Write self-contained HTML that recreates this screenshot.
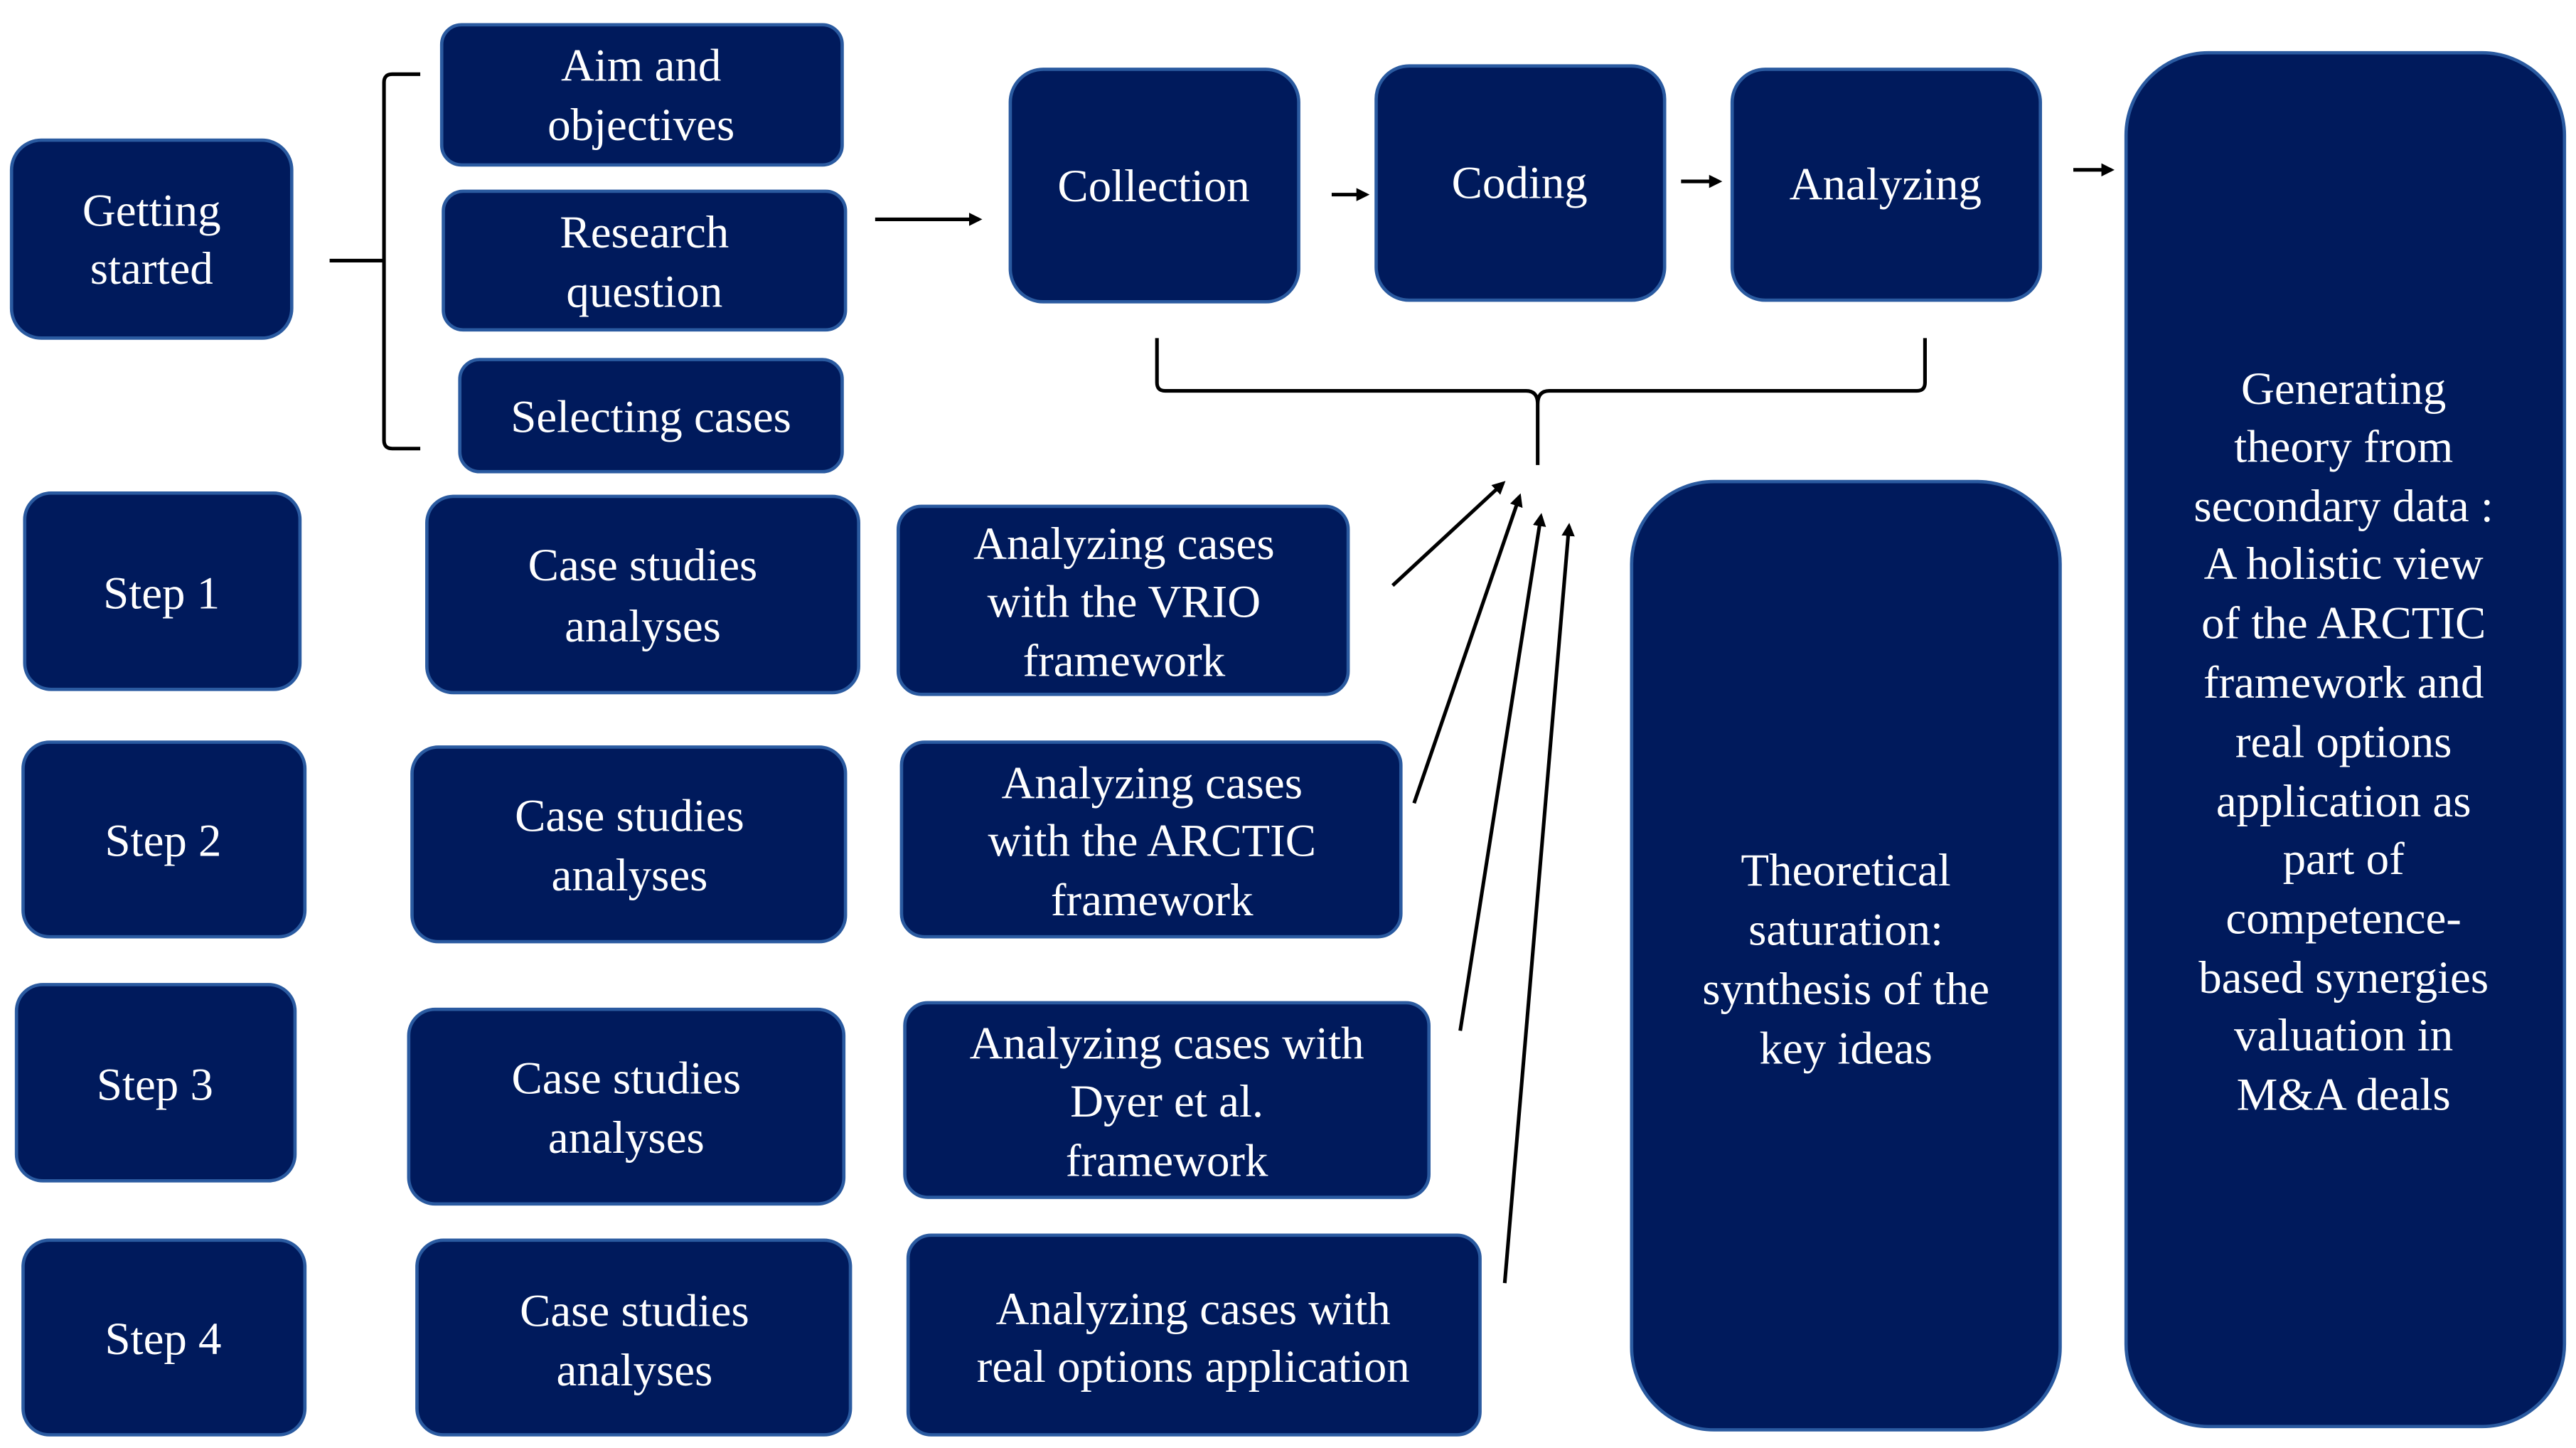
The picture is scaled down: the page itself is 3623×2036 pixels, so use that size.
<!DOCTYPE html>
<html><head><meta charset="utf-8"><style>
html,body{margin:0;padding:0;background:#fff;}
svg{display:block;}
text{font-family:"Liberation Serif",serif;font-size:28px;fill:#fff;text-anchor:middle;}
.b{fill:#001a5c;stroke:#2a5aa0;stroke-width:2;}
.l{stroke:#000;stroke-width:2.2;fill:none;}
</style></head><body>
<svg width="3623" height="2036" viewBox="0 0 1563 878" preserveAspectRatio="none" xmlns="http://www.w3.org/2000/svg">
<defs><marker id="a" markerWidth="8" markerHeight="8" refX="6" refY="4" orient="auto" markerUnits="userSpaceOnUse"><path d="M0,0 L8,4 L0,8 z" fill="#000"/></marker></defs>
<rect class="b" x="7" y="85" width="170" height="120" rx="18"/>
<text x="92" y="137">Getting</text><text x="92" y="172">started</text>
<rect class="b" x="268" y="15" width="243" height="85" rx="12"/>
<text x="389" y="49">Aim and</text><text x="389" y="85">objectives</text>
<rect class="b" x="269" y="116" width="244" height="84" rx="12"/>
<text x="391" y="150">Research</text><text x="391" y="186">question</text>
<rect class="b" x="279" y="218" width="232" height="68" rx="12"/>
<text x="395" y="262">Selecting cases</text>
<path class="l" d="M255,45 L238,45 Q233,45 233,50 L233,267 Q233,272 238,272 L255,272 M200,158 L233,158"/>
<line class="l" x1="531" y1="133" x2="594" y2="133" marker-end="url(#a)"/>
<rect class="b" x="613" y="42" width="175" height="141" rx="20"/>
<text x="700" y="122">Collection</text>
<line class="l" x1="808" y1="118" x2="829" y2="118" marker-end="url(#a)"/>
<rect class="b" x="835" y="40" width="175" height="142" rx="20"/>
<text x="922" y="120">Coding</text>
<line class="l" x1="1020" y1="110" x2="1043" y2="110" marker-end="url(#a)"/>
<rect class="b" x="1051" y="42" width="187" height="140" rx="20"/>
<text x="1144" y="121">Analyzing</text>
<line class="l" x1="1258" y1="103" x2="1281" y2="103" marker-end="url(#a)"/>
<rect class="b" x="1290" y="32" width="266" height="833" rx="50"/>
<g>
<text x="1422" y="245">Generating</text><text x="1422" y="280">theory from</text>
<text x="1422" y="316">secondary data :</text><text x="1422" y="351">A holistic view</text>
<text x="1422" y="387">of the ARCTIC</text><text x="1422" y="423">framework and</text>
<text x="1422" y="459">real options</text><text x="1422" y="495">application as</text>
<text x="1422" y="530">part of</text><text x="1422" y="566">competence-</text>
<text x="1422" y="602">based synergies</text><text x="1422" y="637">valuation in</text>
<text x="1422" y="673">M&amp;A deals</text>
</g>
<path class="l" d="M702,205 L702,232 Q702,237 707,237 L926,237 Q933,237 933,245 L933,282 M933,245 Q933,237 940,237 L1163,237 Q1168,237 1168,232 L1168,205"/>
<rect class="b" x="990" y="292" width="260" height="575" rx="50"/>
<text x="1120" y="537">Theoretical</text><text x="1120" y="573">saturation:</text>
<text x="1120" y="609">synthesis of the</text><text x="1120" y="645">key ideas</text>
<rect class="b" x="15" y="299" width="167" height="119" rx="16"/><text x="98" y="369">Step 1</text>
<rect class="b" x="14" y="450" width="171" height="118" rx="16"/><text x="99" y="519">Step 2</text>
<rect class="b" x="10" y="597" width="169" height="119" rx="16"/><text x="94" y="667">Step 3</text>
<rect class="b" x="14" y="752" width="171" height="118" rx="16"/><text x="99" y="821">Step 4</text>
<rect class="b" x="259" y="301" width="262" height="119" rx="16"/><text x="390" y="352">Case studies</text><text x="390" y="389">analyses</text>
<rect class="b" x="250" y="453" width="263" height="118" rx="16"/><text x="382" y="504">Case studies</text><text x="382" y="540">analyses</text>
<rect class="b" x="248" y="612" width="264" height="118" rx="16"/><text x="380" y="663">Case studies</text><text x="380" y="699">analyses</text>
<rect class="b" x="253" y="752" width="263" height="118" rx="16"/><text x="385" y="804">Case studies</text><text x="385" y="840">analyses</text>
<rect class="b" x="545" y="307" width="273" height="114" rx="14"/>
<text x="682" y="339">Analyzing cases</text><text x="682" y="374">with the VRIO</text><text x="682" y="410">framework</text>
<rect class="b" x="547" y="450" width="303" height="118" rx="14"/>
<text x="699" y="484">Analyzing cases</text><text x="699" y="519">with the ARCTIC</text><text x="699" y="555">framework</text>
<rect class="b" x="549" y="608" width="318" height="118" rx="14"/>
<text x="708" y="642">Analyzing cases with</text><text x="708" y="677">Dyer et al.</text><text x="708" y="713">framework</text>
<rect class="b" x="551" y="749" width="347" height="121" rx="14"/>
<text x="724" y="803">Analyzing cases with</text><text x="724" y="838">real options application</text>
<line class="l" x1="845" y1="355" x2="912" y2="293" marker-end="url(#a)"/>
<line class="l" x1="858" y1="487" x2="922" y2="301" marker-end="url(#a)"/>
<line class="l" x1="886" y1="625" x2="935" y2="313" marker-end="url(#a)"/>
<line class="l" x1="913" y1="778" x2="952" y2="319" marker-end="url(#a)"/>
</svg>
</body></html>
